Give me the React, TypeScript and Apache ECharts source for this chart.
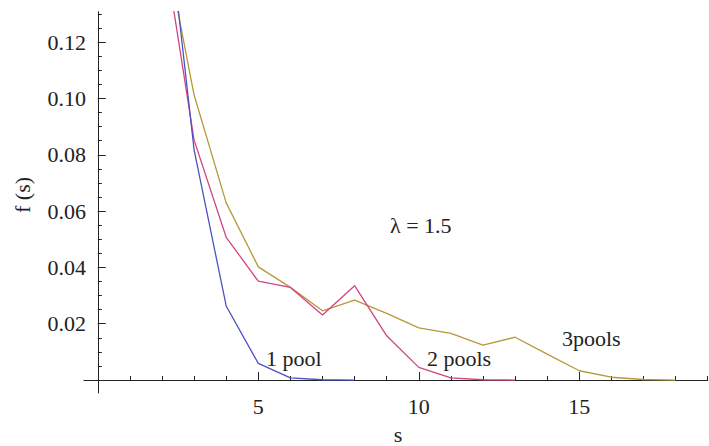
import React, { useEffect, useRef } from "react";
import * as echarts from "echarts";

const sValues = [2, 3, 4, 5, 6, 7, 8, 9, 10, 11, 12, 13, 14, 15, 16, 17, 18];
const onePool = [0.183, 0.0817, 0.0263, 0.0059, 0.0008, 0.0001, 0];
const twoPools = [0.158, 0.0852, 0.0507, 0.0351, 0.0329, 0.0231, 0.0335, 0.0157, 0.0045, 0.0008, 0.0001, 0];
const threePools = [0.16, 0.1012, 0.0629, 0.0402, 0.0329, 0.0246, 0.0284, 0.0237, 0.0185, 0.0166, 0.0124, 0.0152, 0.0092, 0.0033, 0.001, 0.0002, 0];

const xMajor = [5, 10, 15];
const xMinor = [1, 2, 3, 4, 6, 7, 8, 9, 11, 12, 13, 14, 16, 17, 18, 19];
const yMajor = [0.02, 0.04, 0.06, 0.08, 0.1, 0.12];
const yMinor = [0.005, 0.01, 0.015, 0.025, 0.03, 0.035, 0.045, 0.05, 0.055, 0.065, 0.07, 0.075, 0.085, 0.09, 0.095, 0.105, 0.11, 0.115, 0.125, 0.13];

const seriesNames = ["1 pool", "2 pools", "3pools"];
const colors = ["#4a52c4", "#d0457f", "#b8983a"];

const FONT = "'Liberation Serif', 'DejaVu Serif', serif";
const X_MIN = -0.43;
const X_MAX = 19.0;
const Y_MIN = -0.0046;
const Y_MAX = 0.1308;

function pairs(vals: number[]) {
  return vals.map((v, i) => [sValues[i], v]);
}

export default function App() {
  const ref = useRef<HTMLDivElement>(null);
  useEffect(() => {
    if (!ref.current) return;
    const chart = echarts.init(ref.current, null, { renderer: "svg" });
    const axisLine = { show: true, onZero: true, lineStyle: { color: "#222", width: 1 } };
    const tickStyle = { color: "#222", width: 1 };
    const textStyle = (text: string, align: string) => ({
      text,
      font: `22px ${FONT}`,
      fill: "#222",
      verticalAlign: "middle",
      align,
    });
    chart.setOption({
      animation: false,
      backgroundColor: "#fff",
      grid: { left: 84, right: 1.3, top: 11.7, bottom: 53, containLabel: false },
      xAxis: [
        {
          type: "value",
          min: X_MIN,
          max: X_MAX,
          axisLine,
          splitLine: { show: false },
          axisTick: { show: true, inside: true, length: 8, lineStyle: tickStyle, customValues: xMajor },
          axisLabel: {
            show: true,
            customValues: xMajor,
            margin: 2,
            fontFamily: FONT,
            fontSize: 22,
            color: "#222",
          },
        },
        {
          type: "value",
          min: X_MIN,
          max: X_MAX,
          position: "bottom",
          axisLine: { show: false, onZero: true },
          splitLine: { show: false },
          axisTick: { show: true, inside: true, length: 4, lineStyle: tickStyle, customValues: xMinor },
          axisLabel: { show: false },
        },
      ],
      yAxis: [
        {
          type: "value",
          position: "left",
          min: Y_MIN,
          max: Y_MAX,
          axisLine,
          splitLine: { show: false },
          axisTick: { show: true, inside: true, length: 8, lineStyle: tickStyle, customValues: yMajor },
          axisLabel: {
            show: true,
            customValues: yMajor,
            margin: -2,
            fontFamily: FONT,
            fontSize: 22,
            color: "#222",
            formatter: (v: number) => v.toFixed(2),
          },
        },
        {
          type: "value",
          position: "left",
          min: Y_MIN,
          max: Y_MAX,
          axisLine: { show: false, onZero: true },
          splitLine: { show: false },
          axisTick: { show: true, inside: true, length: 4, lineStyle: tickStyle, customValues: yMinor },
          axisLabel: { show: false },
        },
      ],
      series: [onePool, twoPools, threePools].map((vals, i) => ({
        name: seriesNames[i],
        type: "line",
        xAxisIndex: 0,
        yAxisIndex: 0,
        data: pairs(vals),
        showSymbol: false,
        symbol: "none",
        clip: true,
        lineStyle: { color: colors[i], width: 1.3 },
        itemStyle: { color: colors[i] },
        z: 3 - i,
      })),
      graphic: [
        { type: "text", x: 390, y: 225, style: textStyle("λ = 1.5", "left") },
        { type: "text", x: 266, y: 358, style: textStyle("1 pool", "left") },
        { type: "text", x: 427, y: 358, style: textStyle("2 pools", "left") },
        { type: "text", x: 562, y: 338, style: textStyle("3pools", "left") },
        { type: "text", x: 398, y: 434, style: textStyle("s", "center") },
        { type: "text", x: 22, y: 195, rotation: Math.PI / 2, style: textStyle("f (s)", "center") },
      ],
    });
    return () => chart.dispose();
  }, []);
  return (
    <div
      ref={ref}
      style={{ position: "fixed", left: 0, top: 0, width: 709, height: 446, background: "#fff" }}
    />
  );
}
